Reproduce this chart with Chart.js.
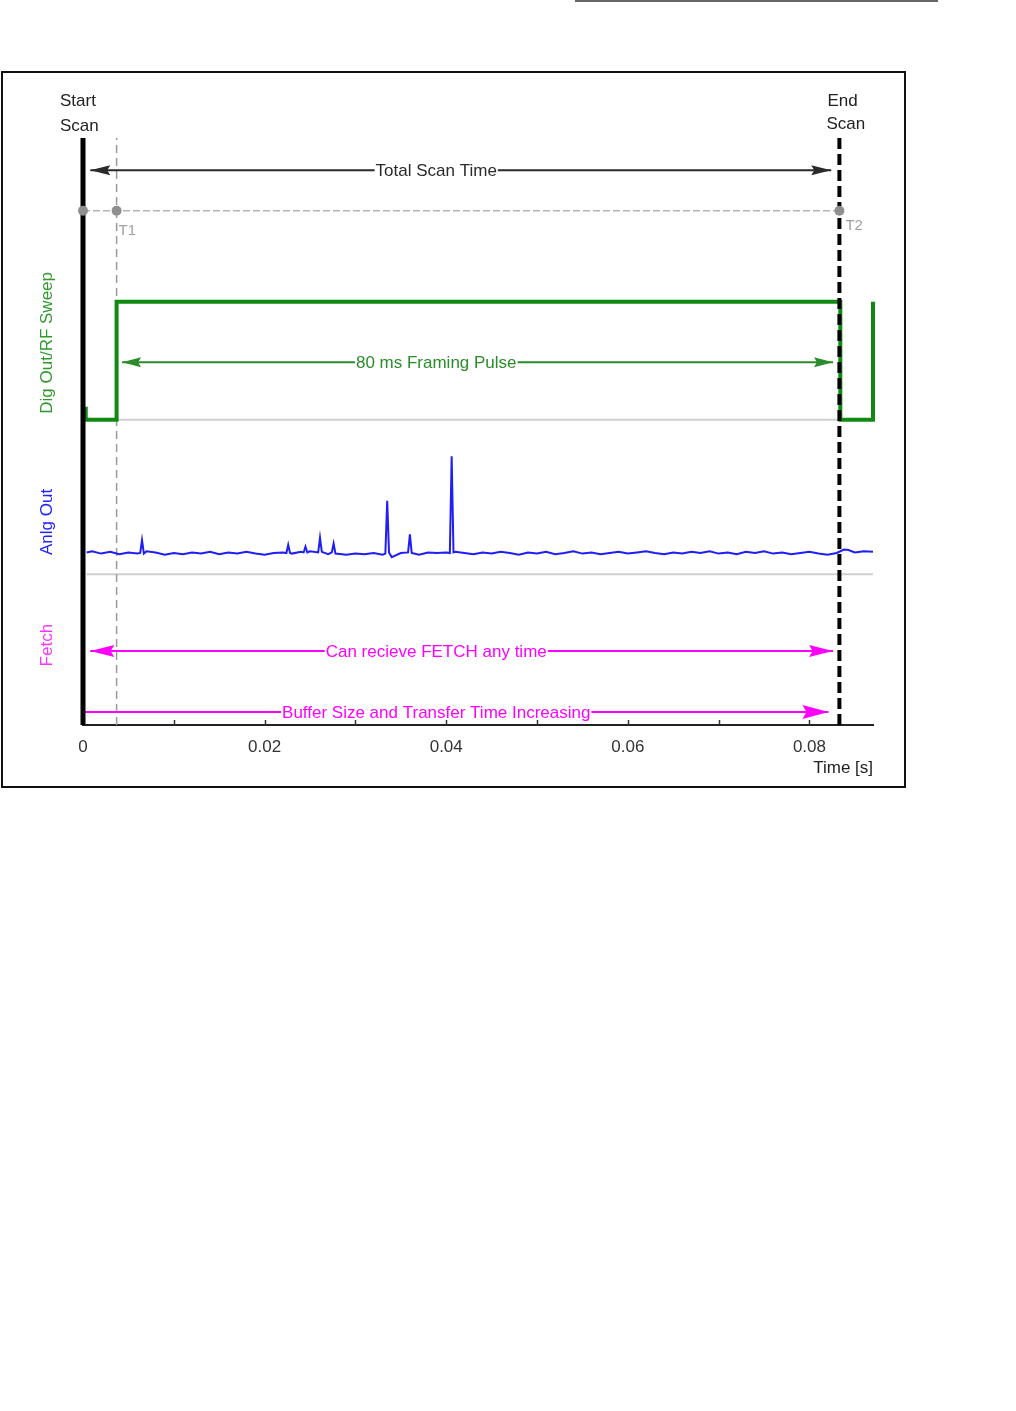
<!DOCTYPE html>
<html>
<head>
<meta charset="utf-8">
<script src="https://cdn.jsdelivr.net/npm/chart.js@4.4.1/dist/chart.umd.min.js"></script>
<style>
  body { margin: 0; background: #fff; width: 1016px; height: 1411px; position: relative; font-family: "Liberation Sans", Arial, sans-serif; }
  #topRule { position: absolute; left: 575px; top: 0; width: 363px; height: 2px; background: #666; }
  #frame { position: absolute; left: 1px; top: 71px; width: 901px; height: 713px; border: 2px solid #111; }
  #wrap { position: absolute; left: 0; top: 0; width: 1016px; height: 800px; }
</style>
</head>
<body>
<div id="topRule"></div>
<div id="frame"></div>
<div id="wrap"><canvas id="scanChart" width="1016" height="800"></canvas></div>
<script>
// ----------------------------
// Dados (tempo em segundos, nivel em unidades do grafico 0-100)
// ----------------------------
const xTickValues = [0, 0.01, 0.02, 0.03, 0.04, 0.05, 0.06, 0.07, 0.08];
const xMax = 0.087;

const startScanT = 0;
const t1Time = 0.0037;
const endScanT = 0.0833;
const tLineLevel = 87.6;

// Dig Out / RF Sweep (pulso de enquadramento)
const digTimes  = [0.0003, 0.0003, 0.0037, 0.0037, 0.0834, 0.0834, 0.0870, 0.0870];
const digLevels = [54.2,   52.0,   52.0,   72.1,   72.1,   52.0,   52.0,   72.1];

// Anlg Out (sinal analogico com ruido e picos)
const anlgTrace = [
  [0.0004,29.4],[0.001,29.6],[0.002,29.2],[0.003,29.5],[0.004,29.1],[0.005,29.4],[0.006,29.2],
  [0.0063,29.3],[0.0065,31.5],[0.0067,29.2],
  [0.007,29.6],[0.008,29.4],[0.009,29.0],[0.010,29.3],[0.011,29.1],[0.012,29.4],[0.013,29.2],
  [0.014,29.5],[0.015,29.1],[0.016,29.4],[0.017,29.2],[0.018,29.5],[0.019,29.2],[0.020,29.0],
  [0.021,29.3],[0.022,29.4],
  [0.0224,29.3],[0.0226,30.7],[0.0228,29.3],
  [0.023,29.2],[0.024,29.5],
  [0.0243,29.4],[0.0245,30.4],[0.0247,29.4],
  [0.025,29.6],[0.0259,29.4],[0.0261,31.9],[0.0263,29.5],[0.027,29.1],
  [0.0274,29.4],[0.0276,30.9],[0.0278,29.2],
  [0.029,29.0],[0.030,29.2],[0.031,29.1],[0.032,29.3],[0.033,29.0],
  [0.0333,29.2],[0.0335,38.2],[0.0337,29.4],[0.034,28.6],[0.035,29.3],
  [0.0358,29.4],[0.036,32.5],[0.0362,29.3],[0.037,29.0],[0.038,29.4],[0.039,29.3],[0.040,29.4],
  [0.0404,29.3],[0.0406,45.8],[0.0408,29.4],
  [0.041,29.5],[0.042,29.3],[0.043,29.1],[0.044,29.4],[0.045,29.2],[0.046,29.5],[0.047,29.3],
  [0.048,29.0],[0.049,29.4],[0.050,29.2],[0.051,29.5],[0.052,29.1],[0.053,29.3],[0.054,29.6],
  [0.055,29.2],[0.056,29.4],[0.057,29.1],[0.058,29.3],[0.059,29.5],[0.060,29.2],[0.061,29.4],
  [0.062,29.6],[0.063,29.3],[0.064,29.1],[0.065,29.4],[0.066,29.2],[0.067,29.5],[0.068,29.3],
  [0.069,29.6],[0.070,29.2],[0.071,29.4],[0.072,29.1],[0.073,29.5],[0.074,29.3],[0.075,29.6],
  [0.076,29.2],[0.077,29.4],[0.078,29.1],[0.079,29.3],[0.080,29.5],[0.081,29.2],[0.082,29.0],
  [0.083,29.3],[0.0838,29.9],[0.0843,29.8],[0.085,29.4],[0.086,29.6],[0.087,29.5]
];

// Linhas de base cinzas
const digBaseLevel = 52.0;
const anlgBaseLevel = 25.7;

// Setas com rotulo
const arrowLabels = ['Total Scan Time', '80 ms Framing Pulse', 'Can recieve FETCH any time', 'Buffer Size and Transfer Time Increasing'];
const arrowStart  = [0.0008, 0.0043, 0.0008, 0.0];
const arrowEnd    = [0.0824, 0.0826, 0.0826, 0.0821];
const arrowLevel  = [94.5, 61.8, 12.6, 2.2];
const arrowBoth   = [true, true, true, false];
const arrowLabelT = 0.0389;

// Rotulos laterais (rotacionados)
const sideLabels = ['Dig Out/RF Sweep', 'Anlg Out', 'Fetch'];
const sideLevels = [65.1, 34.6, 13.6];

// ----------------------------
// Estilos
// ----------------------------
const FONT = '"Liberation Sans", Arial, sans-serif';
const arrowColors = ['#2a2a2a', '#2b8c2b', '#ff00ff', '#ff00ff'];
const arrowHeadLen = [20, 19, 24, 26];
const arrowHeadHalf = [5, 5, 6, 7];
const sideColors = ['#2e9a2e', '#2323ff', '#ff33ff'];

function pts(xs, ys) {
  return xs.map((x, i) => ({ x: x, y: ys[i] }));
}

function seg(x0, x1, y0, y1) {
  return [{ x: x0, y: y0 }, { x: x1, y: y1 }];
}

const lineBase = { pointRadius: 0, tension: 0, fill: false, clip: false };

const datasets = [
  // T1/T2 linha de tempo com pontos
  Object.assign({}, lineBase, {
    data: [{ x: startScanT, y: tLineLevel }, { x: t1Time, y: tLineLevel }, { x: endScanT, y: tLineLevel }],
    borderColor: '#b4b4b4', borderWidth: 1.5, borderDash: [7, 3],
    pointRadius: 5, pointBackgroundColor: '#8f8f8f', pointBorderWidth: 0
  }),
  // Start Scan
  Object.assign({}, lineBase, { data: seg(startScanT, startScanT, 0, 100), borderColor: '#000', borderWidth: 5 }),
  // End Scan
  Object.assign({}, lineBase, { data: seg(endScanT, endScanT, 0, 100), borderColor: '#000', borderWidth: 4, borderDash: [11, 5] }),
  // Dig Out
  Object.assign({}, lineBase, { data: pts(digTimes, digLevels), borderColor: '#108a10', borderWidth: 4 }),
  // Anlg Out
  Object.assign({}, lineBase, { data: anlgTrace.map(p => ({ x: p[0], y: p[1] })), borderColor: '#1e1ef5', borderWidth: 2 })
];

arrowLabels.forEach((lbl, i) => {
  datasets.push(Object.assign({}, lineBase, {
    data: seg(arrowStart[i], arrowEnd[i], arrowLevel[i], arrowLevel[i]),
    borderColor: arrowColors[i], borderWidth: 2
  }));
});

datasets.push(
  Object.assign({}, lineBase, { data: seg(t1Time, t1Time, 0, 100), borderColor: '#9a9a9a', borderWidth: 1.5, borderDash: [8, 5] }),
  Object.assign({}, lineBase, { data: seg(t1Time, endScanT, digBaseLevel, digBaseLevel), borderColor: '#cfcfcf', borderWidth: 2 }),
  Object.assign({}, lineBase, { data: seg(0.0004, xMax, anlgBaseLevel, anlgBaseLevel), borderColor: '#cfcfcf', borderWidth: 2 })
);

// ----------------------------
// Plugin: setas, rotulos e marcas
// ----------------------------
function arrowHead(ctx, xTip, y, dir, len, half, color) {
  ctx.fillStyle = color;
  ctx.beginPath();
  ctx.moveTo(xTip, y);
  ctx.lineTo(xTip - dir * len, y - half);
  ctx.lineTo(xTip - dir * len * 0.85, y);
  ctx.lineTo(xTip - dir * len, y + half);
  ctx.closePath();
  ctx.fill();
}

const scanAnnotations = {
  id: 'scanAnnotations',
  afterDatasetsDraw(chart) {
    const ctx = chart.ctx;
    const xs = chart.scales.x, ys = chart.scales.y;
    ctx.save();
    ctx.font = '17px ' + FONT;
    ctx.textBaseline = 'middle';
    ctx.textAlign = 'center';
    arrowLabels.forEach((lbl, i) => {
      const y = ys.getPixelForValue(arrowLevel[i]);
      arrowHead(ctx, xs.getPixelForValue(arrowEnd[i]), y, 1, arrowHeadLen[i], arrowHeadHalf[i], arrowColors[i]);
      if (arrowBoth[i]) {
        arrowHead(ctx, xs.getPixelForValue(arrowStart[i]), y, -1, arrowHeadLen[i], arrowHeadHalf[i], arrowColors[i]);
      }
      const cx = xs.getPixelForValue(arrowLabelT);
      const w = ctx.measureText(lbl).width;
      ctx.fillStyle = '#fff';
      ctx.fillRect(cx - w / 2 - 1, y - 4, w + 2, 8);
      ctx.fillStyle = arrowColors[i];
      ctx.fillText(lbl, cx, y + 1);
    });

    // T1 / T2
    ctx.font = '15px ' + FONT;
    ctx.textAlign = 'left';
    ctx.fillStyle = '#a0a0a0';
    const ty = ys.getPixelForValue(tLineLevel);
    ctx.fillText('T1', xs.getPixelForValue(t1Time) + 2, ty + 20);
    ctx.fillText('T2', xs.getPixelForValue(endScanT) + 6, ty + 15);
    ctx.restore();
  },
  afterDraw(chart) {
    const ctx = chart.ctx;
    const xs = chart.scales.x, ys = chart.scales.y;
    const top = ys.getPixelForValue(100);
    const bottom = ys.getPixelForValue(0);
    ctx.save();

    // marcas do eixo x (para dentro)
    ctx.strokeStyle = '#333';
    ctx.lineWidth = 1.5;
    xTickValues.forEach(v => {
      if (v === 0) return;
      const px = Math.round(xs.getPixelForValue(v)) + 0.5;
      ctx.beginPath();
      ctx.moveTo(px, bottom);
      ctx.lineTo(px, bottom - 5);
      ctx.stroke();
    });

    // Start / End Scan
    ctx.font = '17px ' + FONT;
    ctx.fillStyle = '#222';
    ctx.textAlign = 'left';
    ctx.textBaseline = 'middle';
    const sx = xs.getPixelForValue(startScanT);
    ctx.fillText('Start', sx - 23, top - 37);
    ctx.fillText('Scan', sx - 23, top - 12);
    const ex = xs.getPixelForValue(endScanT);
    ctx.fillText('End', ex - 12, top - 37);
    ctx.fillText('Scan', ex - 13, top - 14);

    // Time [s]
    ctx.textAlign = 'right';
    ctx.fillText('Time [s]', xs.right, bottom + 43);

    // Rotulos laterais
    sideLabels.forEach((lbl, i) => {
      ctx.save();
      ctx.translate(sx - 36, ys.getPixelForValue(sideLevels[i]));
      ctx.rotate(-Math.PI / 2);
      ctx.textAlign = 'center';
      ctx.fillStyle = sideColors[i];
      ctx.fillText(lbl, 0, 0);
      ctx.restore();
    });
    ctx.restore();
  }
};

// ----------------------------
// Grafico
// ----------------------------
const ctxScan = document.getElementById('scanChart');
new Chart(ctxScan, {
  type: 'line',
  data: { datasets: datasets },
  options: {
    responsive: false,
    animation: false,
    events: [],
    layout: { padding: { left: 83, right: 143, top: 138, bottom: 35 } },
    plugins: { legend: { display: false }, tooltip: { enabled: false } },
    scales: {
      x: {
        type: 'linear',
        min: 0,
        max: xMax,
        afterFit: (scale) => { scale.height = 40; },
        grid: { display: false },
        border: { display: true, color: '#222', width: 2 },
        ticks: {
          stepSize: 0.01,
          includeBounds: false,
          autoSkip: false,
          maxRotation: 0,
          padding: 4,
          color: '#333',
          font: { family: FONT, size: 17 },
          callback: (value) => (Math.round(value * 100) % 2 === 0 ? String(Math.round(value * 100) / 100) : '')
        }
      },
      y: { type: 'linear', min: 0, max: 100, display: false }
    }
  },
  plugins: [scanAnnotations]
});
</script>
</body>
</html>
